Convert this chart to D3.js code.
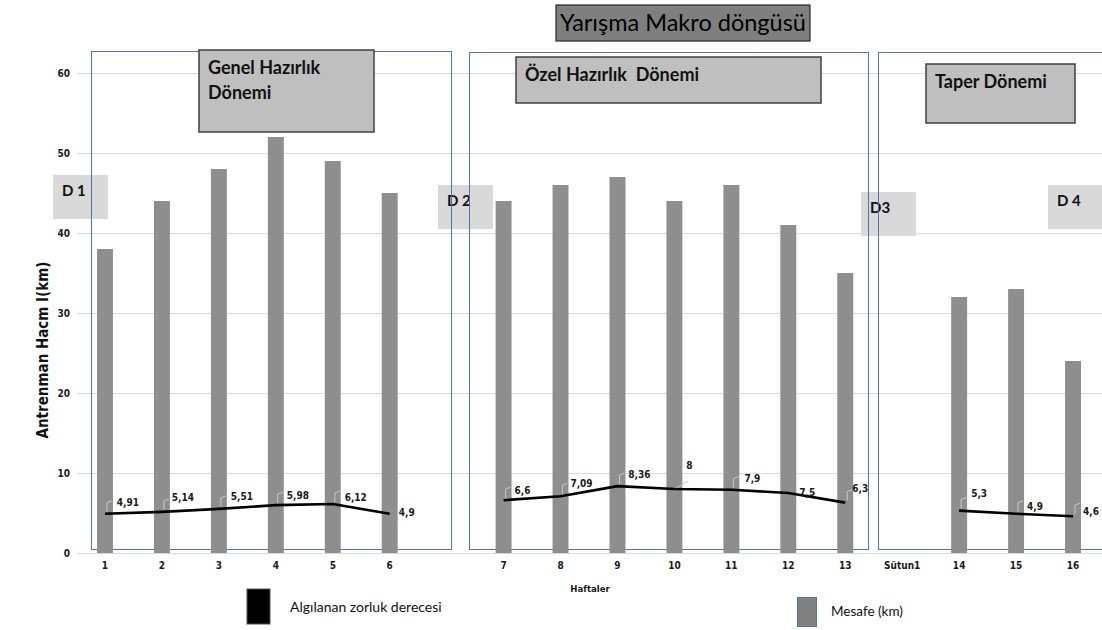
<!DOCTYPE html>
<html>
<head>
<meta charset="utf-8">
<script src="https://cdn.jsdelivr.net/npm/d3@7"></script>
<style>
  html, body { margin: 0; padding: 0; background: #fff; }
  svg { display: block; }
  .lbl { font-family: "DejaVu Sans Condensed", "DejaVu Sans", sans-serif; font-weight: 700; }
  .ui  { font-family: "Lato", "Open Sans", sans-serif; white-space: pre; }
</style>
</head>
<body>
<svg id="chart" width="1102" height="630"></svg>
<script>
// Weekly plan: categories, training volume (km) and perceived exertion
const weeks    = ["1", "2", "3", "4", "5", "6", "", "7", "8", "9", "10", "11", "12", "13", "Sütun1", "14", "15", "16"];
const distance = [38, 44, 48, 52, 49, 45, null, 44, 46, 47, 44, 46, 41, 35, null, 32, 33, 24];
const rpe      = [4.91, 5.14, 5.51, 5.98, 6.12, 4.9, null, 6.6, 7.09, 8.36, 8, 7.9, 7.5, 6.3, null, 5.3, 4.9, 4.6];
const yTicks   = [0, 10, 20, 30, 40, 50, 60];

// Period names and the D markers
const periods  = ["Genel Hazırlık\nDönemi", "Özel Hazırlık  Dönemi", "Taper Dönemi"];
const dMarks   = ["D 1", "D 2", "D3", "D 4"];
const title    = "Yarışma Makro döngüsü";
const seriesNames = ["Algılanan zorluk derecesi", "Mesafe (km)"];
const xTitle   = "Haftaler";
const yTitle   = "Antrenman Hacm I(km)";

// Label nudges (dx, dy) for the exertion values
const labelShift = [[23,-11],[21,-14],[23,-12],[22,-10],[23,-7],[17,-1],null,
                    [19,-10],[21,-13],[22,-12],[15,-24],[21,-11],[19,-1],[15,-14],null,
                    [20,-17],[19,-7],[18,-5]];

const svg = d3.select("#chart");

const x = d3.scaleBand()
  .domain(d3.range(weeks.length))
  .range([76.5, 1101.5])
  .paddingInner(0.72)
  .paddingOuter(0.36);
const cx = i => x(i) + x.bandwidth() / 2;

const y = d3.scaleLinear().domain([0, 60]).range([553, 73]);

// Gridlines + y tick labels
const yAxis = svg.append("g")
  .attr("transform", "translate(77,0)")
  .call(d3.axisLeft(y).tickValues(yTicks).tickSize(-1025).tickPadding(7));
yAxis.select(".domain").remove();
yAxis.selectAll(".tick line").attr("stroke", "#d9d9d9").attr("stroke-width", 1.2);
yAxis.selectAll(".tick text")
  .attr("class", "lbl").attr("font-size", 10).attr("fill", "#1a1a1a");

// Category labels
const xAxis = svg.append("g")
  .attr("transform", "translate(0,553)")
  .call(d3.axisBottom(x).tickFormat(i => weeks[i]).tickSize(0).tickPadding(9));
xAxis.select(".domain").remove();
xAxis.selectAll(".tick text")
  .attr("class", "lbl").attr("font-size", 10).attr("fill", "#1a1a1a");

// D marker panels
const dPos = [[53,175],[438,185],[861,192],[1048,185]];
const dG = svg.append("g");
dMarks.forEach((t, i) => {
  dG.append("rect").attr("x", dPos[i][0]).attr("y", dPos[i][1])
    .attr("width", 55).attr("height", 44).attr("fill", "#d9d9d9");
  dG.append("text").attr("class", "ui").attr("font-weight", 700).attr("font-size", 15)
    .attr("x", dPos[i][0] + 9).attr("y", dPos[i][1] + 21)
    .attr("fill", "#111").text(t);
});

// Period frames
const frames = [[91, 51, 360, 498], [469, 52, 399, 497], [878, 52, 224, 497]];
svg.append("g").selectAll("rect").data(frames).join("rect")
  .attr("x", d => d[0] + 0.5).attr("y", d => d[1] + 0.5)
  .attr("width", d => d[2]).attr("height", d => d[3])
  .attr("fill", "none").attr("stroke", "#5272b0").attr("stroke-width", 1);

// Bars
svg.append("g").selectAll("rect")
  .data(distance.map((v, i) => ({ v, i })).filter(d => d.v != null))
  .join("rect")
  .attr("x", d => x(d.i)).attr("width", x.bandwidth())
  .attr("y", d => y(d.v)).attr("height", d => y(0) - y(d.v))
  .attr("fill", "#8e8e8e");

// Exertion line, broken between periods
const pts = rpe.map((v, i) => ({ v, i }));
svg.append("path")
  .datum(pts)
  .attr("fill", "none").attr("stroke", "#000").attr("stroke-width", 2.6)
  .attr("stroke-linejoin", "round")
  .attr("d", d3.line().defined(d => d.v != null).x(d => cx(d.i)).y(d => y(d.v)));

// Leader lines
const lead = svg.append("g").attr("fill", "none").attr("stroke", "#c8c8c8").attr("stroke-width", 1);
pts.filter(d => d.v != null).forEach(d => {
  const px = cx(d.i), py = y(d.v);
  if (d.i === 5 || d.i === 12) return;
  if (d.i === 10) {
    lead.append("path").attr("d", `M${px + 2},${py - 1}L${px + 14},${py - 8}`);
  } else {
    lead.append("path").attr("d", `M${px + 2},${py - 2}L${px + 2},${py - 11}L${px + 7},${py - 13}`);
  }
});

// Value labels
svg.append("g").selectAll("text")
  .data(pts.filter(d => d.v != null))
  .join("text")
  .attr("class", "lbl").attr("font-size", 10).attr("fill", "#1a1a1a")
  .attr("text-anchor", "middle").attr("dominant-baseline", "central")
  .attr("x", d => cx(d.i) + labelShift[d.i][0])
  .attr("y", d => y(d.v) + labelShift[d.i][1])
  .text(d => String(d.v).replace(".", ","));

// Period name boxes
const pBoxes = [[199, 50, 175, 82], [516, 57, 305, 46], [926, 64, 149, 59]];
periods.forEach((t, i) => {
  const b = pBoxes[i];
  svg.append("rect").attr("x", b[0]).attr("y", b[1]).attr("width", b[2]).attr("height", b[3])
    .attr("fill", "#bfbfbf").attr("stroke", "#404040").attr("stroke-width", 1.5);
  const tx = svg.append("text").attr("class", "ui").attr("font-weight", 700)
    .attr("font-size", 18).attr("fill", "#111")
    .attr("x", b[0] + 9).attr("y", b[1] + 24);
  t.split("\n").forEach((line, k) => {
    tx.append("tspan").attr("x", b[0] + 9).attr("dy", k === 0 ? 0 : 25).text(line);
  });
});

// Title box
svg.append("rect").attr("x", 556).attr("y", 5).attr("width", 254).attr("height", 36)
  .attr("fill", "#7f7f7f").attr("stroke", "#262626").attr("stroke-width", 1.2);
svg.append("text").attr("class", "ui").attr("font-size", 23.5).attr("fill", "#000")
  .attr("text-anchor", "middle").attr("x", 683).attr("y", 31).text(title);

// Axis titles
svg.append("text").attr("class", "lbl").attr("font-size", 15).attr("fill", "#111")
  .attr("text-anchor", "middle")
  .attr("transform", "translate(48,350) rotate(-90)").text(yTitle);
svg.append("text").attr("class", "lbl").attr("font-size", 9.5).attr("fill", "#1a1a1a")
  .attr("text-anchor", "middle").attr("x", 590).attr("y", 592).text(xTitle);

// Legend
svg.append("rect").attr("x", 247).attr("y", 589).attr("width", 23).attr("height", 35)
  .attr("fill", "#000").attr("stroke", "#555").attr("stroke-width", 1);
svg.append("text").attr("class", "ui").attr("font-size", 14).attr("fill", "#111")
  .attr("x", 290).attr("y", 612).text(seriesNames[0]);
svg.append("rect").attr("x", 797.5).attr("y", 597.5).attr("width", 19).attr("height", 29)
  .attr("fill", "#808080").attr("stroke", "#5272b0").attr("stroke-width", 1);
svg.append("text").attr("class", "ui").attr("font-size", 13.5).attr("fill", "#111")
  .attr("x", 831).attr("y", 616).text(seriesNames[1]);
</script>
</body>
</html>
